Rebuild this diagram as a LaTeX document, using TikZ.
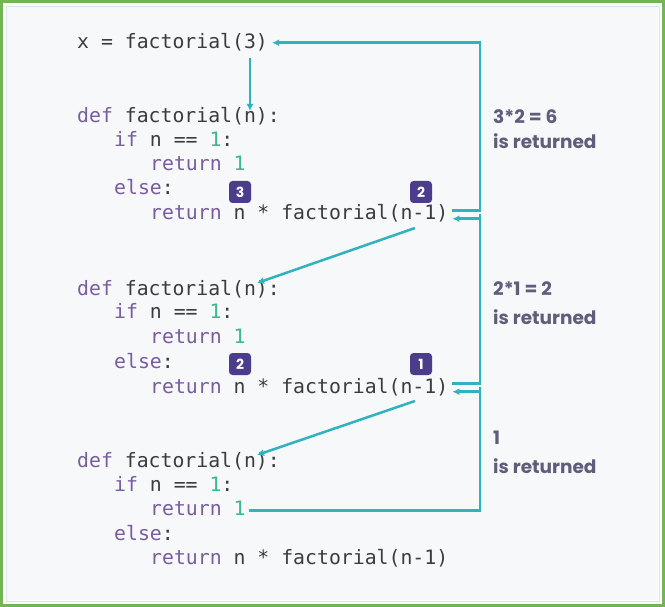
\documentclass[tikz,border=0pt]{standalone}
\usepackage{fontspec}
\usetikzlibrary{arrows.meta,calc}
\newfontfamily\codefont{DejaVu Sans Mono}
\newfontfamily\labfont{Poppins}
\definecolor{codegray}{RGB}{60,60,64}
\definecolor{kwpurple}{RGB}{122,92,160}
\definecolor{numgreen}{RGB}{58,186,140}
\definecolor{labgray}{RGB}{96,92,124}
\definecolor{badgepurple}{RGB}{76,60,140}
\definecolor{conteal}{RGB}{48,178,192}
\definecolor{framegreen}{RGB}{112,182,84}
\definecolor{bginner}{RGB}{246,248,249}
\definecolor{innerline}{RGB}{222,228,230}
\newcommand{\kw}[1]{\textcolor{kwpurple}{#1}}
\newcommand{\nm}[1]{\textcolor{numgreen}{#1}}
\begin{document}
\begin{tikzpicture}[x=1pt,y=-1pt,
  code/.style={anchor=base west, inner sep=0pt, font=\codefont\fontsize{19.8}{24}\selectfont, text=codegray},
  lab/.style={anchor=base west, inner sep=0pt, font=\labfont\bfseries\fontsize{18.5}{22}\selectfont, text=labgray},
  badge/.style={fill=badgepurple, rounded corners=3.5pt, minimum size=22pt, inner sep=0pt, text=white, font=\labfont\bfseries\fontsize{14}{14}\selectfont},
  conn/.style={draw=conteal, line width=2.5pt},
  arr/.style={conn, -{Latex[length=7pt,width=7pt]}}
]
\useasboundingbox (0,0) rectangle (665,607);
\fill[white] (0,0) rectangle (665,607);
\fill[bginner] (7,7) rectangle (658,600);
\draw[innerline, line width=0.8pt] (6,6) rectangle (659,601);
\draw[framegreen, line width=3pt] (1.5,1.5) rectangle (663.5,605.5);

% code
\node[code] (x) at (77,49) {x = factorial(3)};
\node[code] (d1) at (77,123) {\kw{def} factorial(n):};
\node[code] (i1) at (114,147) {\kw{if} n == \nm{1}:};
\node[code] (o1) at (150,171) {\kw{return} \nm{1}};
\node[code] (e1) at (114,195) {\kw{else}:};
\node[code] (r1) at (150,220) {\kw{return} n * factorial(n-1)};

\node[code] (d2) at (77,295) {\kw{def} factorial(n):};
\node[code] (i2) at (114,319) {\kw{if} n == \nm{1}:};
\node[code] (o2) at (150,343) {\kw{return} \nm{1}};
\node[code] (e2) at (114,368) {\kw{else}:};
\node[code] (r2) at (150,393) {\kw{return} n * factorial(n-1)};

\node[code] (d3) at (77,467) {\kw{def} factorial(n):};
\node[code] (i3) at (114,491) {\kw{if} n == \nm{1}:};
\node[code] (o3) at (150,515) {\kw{return} \nm{1}};
\node[code] (e3) at (114,540) {\kw{else}:};
\node[code] (r3) at (150,564) {\kw{return} n * factorial(n-1)};

% badges
\node[badge] (b13) at (240,192) {3};
\node[badge] (b12) at (421,192) {2};
\node[badge] (b22) at (240,364) {2};
\node[badge] (b21) at (421,364) {1};

% labels
\node[lab] (l1a) at (493,124) {3*2 = 6};
\node[lab] (l1b) at (493,149) {is returned};
\node[lab] (l2a) at (493,296) {2*1 = 2};
\node[lab] (l2b) at (493,324) {is returned};
\node[lab] (l3a) at (493,444) {1};
\node[lab] (l3b) at (493,473) {is returned};

% connectors
\coordinate (xs) at ($(x.base west)+(173,9)$);
\coordinate (d1n) at ($(d1.base west)+(173,-12)$);
\draw[arr] (xs) -- (d1n);

\draw[arr] ($(r1.east)+(4,-3)$) -| (480,0 |- x.east) -- ($(x.east)+(4,0)$);
\draw[arr] ($(r2.east)+(4,-3)$) -| (480,0 |- r1.east) ++(0,5) -- ($(r1.east)+(4,5)$);
\draw[arr] ($(o3.east)+(3,2.5)$) -| (480,0 |- r2.east) ++(0,5) -- ($(r2.east)+(4,5)$);

\draw[arr] ($(r1.base west)+(265,8)$) -- ($(d2.base west)+(180,-12)$);
\draw[arr] ($(r2.base west)+(265,8)$) -- ($(d3.base west)+(180,-12)$);
\end{tikzpicture}
\end{document}
